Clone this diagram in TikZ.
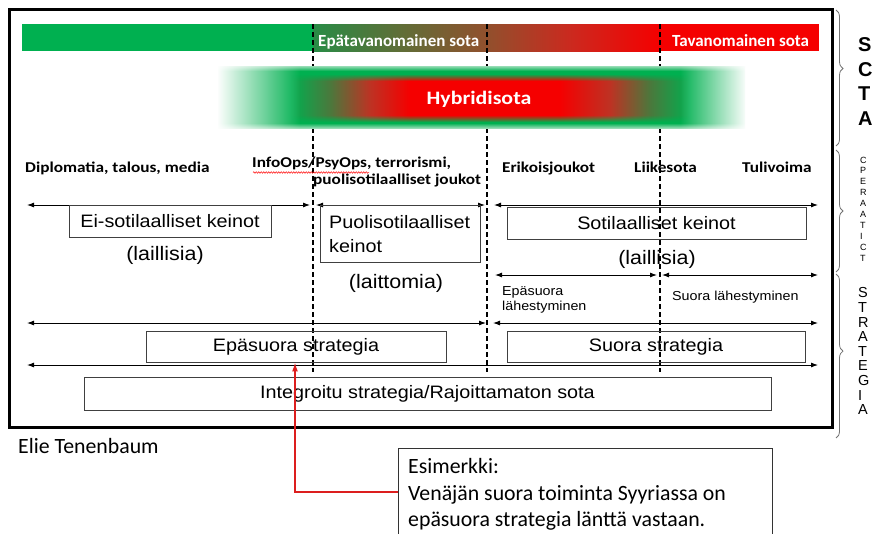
\documentclass[tikz,border=0pt]{standalone}
\usepackage{fontspec}
\setmainfont{Liberation Sans}
\newfontfamily\arialfont{Liberation Sans}[FakeStretch=1.1]
\newfontfamily\calfont{Carlito}
\newfontfamily\calwide{Carlito}[FakeStretch=1.15]
\usetikzlibrary{arrows.meta,decorations.pathreplacing,decorations.pathmorphing,fadings,calc}
\definecolor{mygreen}{RGB}{0,176,80}
\definecolor{myred}{RGB}{245,0,0}
\definecolor{bgA}{RGB}{40,140,70}
\definecolor{bgB}{RGB}{95,110,55}
\definecolor{bgC}{RGB}{145,80,45}
\definecolor{bgD}{RGB}{205,40,30}
\definecolor{hcA}{RGB}{75,120,60}
\definecolor{hcB}{RGB}{190,50,35}
\definecolor{lightgreen}{RGB}{150,220,180}
\pgfdeclarehorizontalshading{barshade}{100bp}{color(0bp)=(bgA); color(25bp)=(bgA); color(37.5bp)=(bgB); color(50bp)=(bgC); color(62.5bp)=(bgD); color(75bp)=(myred); color(100bp)=(myred)}
\pgfdeclarehorizontalshading{hybshade}{100bp}{color(0bp)=(mygreen); color(25bp)=(mygreen); color(29.9bp)=(hcA); color(34.8bp)=(hcB); color(39.6bp)=(myred); color(57.9bp)=(myred); color(64bp)=(hcB); color(68.9bp)=(hcA); color(73.8bp)=(mygreen); color(100bp)=(mygreen)}
\pgfdeclareverticalshading{bandshade}{100bp}{color(0bp)=(white); color(25bp)=(lightgreen); color(29bp)=(mygreen); color(71bp)=(mygreen); color(75bp)=(lightgreen); color(100bp)=(white)}
\tikzset{
  box/.style={draw=black!75, line width=0.9pt, inner sep=0pt},
  boxtxt/.style={font=\arialfont\fontsize{18}{22}\selectfont, inner sep=0pt},
  partxt/.style={font=\arialfont\fontsize{19.5}{23}\selectfont, inner sep=0pt},
  smalltxt/.style={font=\arialfont\fontsize{13}{15}\selectfont, inner sep=0pt},
  lbl/.style={font=\calwide\bfseries\fontsize{15}{18}\selectfont, inner sep=0pt},
  bartxt/.style={font=\calfont\bfseries\fontsize{17}{20}\selectfont, text=white, inner sep=0pt},
  caltxt/.style={font=\calfont\fontsize{21.8}{26}\selectfont, inner sep=0pt},
  dline/.style={line width=1.2pt, dash pattern=on 5pt off 3pt},
  darr/.style={line width=0.9pt, {Latex[length=7pt,width=5pt]}-{Latex[length=7pt,width=5pt]}},
  redarr/.style={draw={rgb,255:red,220;green,30;blue,30}, line width=1.5pt, -{Latex[length=9pt,width=6pt]}},
  brc/.style={draw=black!55, line width=0.8pt, decorate, decoration={brace, amplitude=7pt}},
  bigletter/.style={font=\fontsize{20}{20}\selectfont\bfseries, inner sep=0pt, anchor=west},
  tinyletter/.style={font=\fontsize{9}{9}\selectfont, inner sep=0pt, anchor=west},
  midletter/.style={font=\fontsize{14.5}{14.5}\selectfont, inner sep=0pt, anchor=west},
}
\begin{document}
\begin{tikzpicture}[x=1pt,y=-1pt]
\useasboundingbox (0,0) rectangle (872,533);
\fill[white] (0,0) rectangle (872,533);

% top bar
\fill[mygreen] (22,24) rectangle (313,51);
\shade[shading=barshade] (313,24) rectangle (660,51);
\fill[myred] (660,24) rectangle (819,51);

% dashed lines
\coordinate (d1t) at (313,24); \coordinate (d1b) at (313,372);
\coordinate (d2t) at (487,24); \coordinate (d2b) at (487,372);
\coordinate (d3t) at (660,24); \coordinate (d3b) at (660,372);
\draw[dline] (d1t) -- (d1b);
\draw[dline] (d2t) -- (d2b);
\draw[dline] (d3t) -- (d3b);

% hybrid band
\shade[shading=bandshade] (218,66) rectangle (745,128);
\shade[shading=hybshade] (290,81) rectangle (700,115);
\shade[shading=hybshade, path fading=north] (290,74) rectangle (700,81);
\shade[shading=hybshade, path fading=south] (290,115) rectangle (700,122);
\fill[white, path fading=east] (217,64) rectangle (300,130);
\fill[white, path fading=west] (680,64) rectangle (747,130);

% frame
\draw[line width=3pt] (9.5,9.5) rectangle (832,427);

% bar texts
\node[bartxt, anchor=base west] (epa) at (318,46) {Epätavanomainen sota};
\node[bartxt, anchor=base west] (tav) at (672,46) {Tavanomainen sota};
\node[bartxt, font=\calwide\bfseries\fontsize{19}{22}\selectfont, anchor=base] (hyb) at (479,104) {Hybridisota};

% row labels
\node[lbl, anchor=base west] (dip) at (25,172) {Diplomatia, talous, media};
\node[lbl, anchor=base west] (info) at (252,167) {InfoOps/PsyOps, terrorismi,};
\node[lbl, anchor=base west] (puol) at (313,184) {puolisotilaalliset joukot};
\node[lbl, anchor=base west] (erik) at (502,172) {Erikoisjoukot};
\node[lbl, anchor=base west] (liik) at (634,172) {Liikesota};
\node[lbl, anchor=base west] (tuli) at (742,172) {Tulivoima};
\coordinate (wv1) at (253,172.5); \coordinate (wv2) at (369,172.5);
\draw[red, line width=0.5pt, decorate, decoration={snake, amplitude=0.8pt, segment length=2.5pt}] (wv1) -- (wv2);

% row 1 arrows
\coordinate (a1l) at (27,205); \coordinate (a1r) at (310,205);
\coordinate (a2l) at (316,205); \coordinate (a2r) at (485,205);
\coordinate (a3l) at (494,205); \coordinate (a3r) at (818,205);
\draw[darr] (a1l) -- (a1r);
\draw[darr] (a2l) -- (a2r);
\draw[darr] (a3l) -- (a3r);

% row 1 boxes
\node[box, boxtxt, minimum width=202pt, minimum height=32pt] (eis) at (170,221) {Ei-sotilaalliset keinot};
\node[box, minimum width=160pt, minimum height=57pt] (pbox) at (400,233.5) {};
\node[boxtxt, anchor=base west] (pt1) at (329,228) {Puolisotilaalliset};
\node[boxtxt, anchor=base west] (pt2) at (329,252) {keinot};
\node[box, boxtxt, minimum width=299pt, minimum height=32pt] (sot) at (656.5,223) {Sotilaalliset keinot};

\node[partxt] (lai1) at (165,255) {(laillisia)};
\node[partxt] (lait) at (396,283) {(laittomia)};
\node[partxt] (lai2) at (657,259) {(laillisia)};

% row 2 arrows
\coordinate (b1l) at (495,275); \coordinate (b1r) at (657,275);
\coordinate (b2l) at (662,275); \coordinate (b2r) at (818,275);
\draw[darr] (b1l) -- (b1r);
\draw[darr] (b2l) -- (b2r);
\node[smalltxt, anchor=base west] (el1) at (502,295) {Epäsuora};
\node[smalltxt, anchor=base west] (el2) at (502,310) {lähestyminen};
\node[smalltxt, anchor=base west] (sl) at (672,300) {Suora lähestyminen};

% row 3 arrows and boxes
\coordinate (c1l) at (27,323); \coordinate (c1r) at (486,323);
\coordinate (c2l) at (493,323); \coordinate (c2r) at (818,323);
\draw[darr] (c1l) -- (c1r);
\draw[darr] (c2l) -- (c2r);
\node[box, boxtxt, minimum width=300pt, minimum height=31pt] (epas) at (296,346.5) {Epäsuora strategia};
\node[box, boxtxt, minimum width=298pt, minimum height=31pt] (suor) at (656,346.5) {Suora strategia};

\coordinate (e1l) at (27,365); \coordinate (e1r) at (818,365);
\draw[darr] (e1l) -- (e1r);
\node[box, boxtxt, minimum width=687pt, minimum height=33pt] (integ) at (427.5,393.5) {Integroitu strategia/Rajoittamaton sota};

% author
\node[caltxt, anchor=base west] (elie) at (18,453) {Elie Tenenbaum};

% example box
\node[box, draw=black!80, minimum width=374pt, minimum height=100pt] (esim) at (585,498) {};
\node[caltxt, anchor=base west] (es1) at (408,473) {Esimerkki:};
\node[caltxt, anchor=base west] (es2) at (408,500) {Venäjän suora toiminta Syyriassa on};
\node[caltxt, anchor=base west] (es3) at (408,526.5) {epäsuora strategia länttä vastaan.};
\coordinate (elbow) at (295,492);
\draw[redarr] (esim.west |- elbow) -- (elbow) -- (epas.south -| elbow);

% right braces
\coordinate (br1t) at (836,10); \coordinate (br1b) at (836,146);
\coordinate (br2t) at (836,150); \coordinate (br2b) at (836,272);
\coordinate (br3t) at (836,274); \coordinate (br3b) at (836,438);
\draw[brc, decoration={aspect=0.43}] (br1t) -- (br1b);
\draw[brc] (br2t) -- (br2b);
\draw[brc, decoration={aspect=0.47}] (br3t) -- (br3b);

\foreach \L [count=\i from 0] in {S,C,T,A}
  \node[bigletter] (bl\i) at (858,{45+24.4*\i}) {\L};
\foreach \L [count=\i from 0] in {C,P,E,R,A,A,T,I,C,T}
  \node[tinyletter] (tl\i) at (860,{160+10.9*\i}) {\L};
\foreach \L [count=\i from 0] in {S,T,R,A,T,E,G,I,A}
  \node[midletter] (ml\i) at (858,{293+14.6*\i}) {\L};
\end{tikzpicture}
\end{document}
